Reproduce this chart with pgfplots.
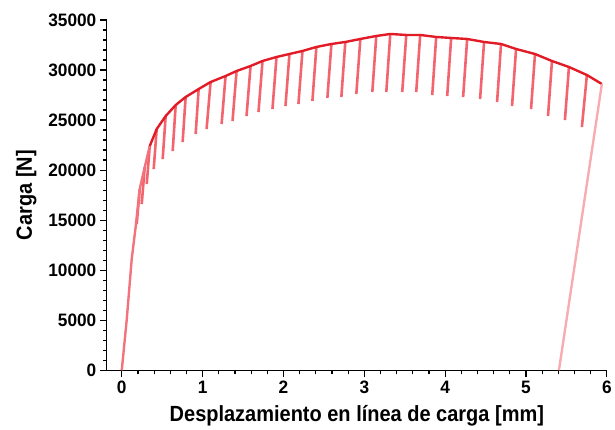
\documentclass[border=0pt]{standalone}
\usepackage{pgfplots}
\pgfplotsset{compat=1.18}
\usepackage{fontspec}
\setmainfont{Liberation Sans}
\newfontfamily\tickfont[FakeStretch=0.96]{Liberation Sans}
\newfontfamily\labfont[FakeStretch=0.91]{Liberation Sans}
\definecolor{env}{RGB}{226,28,38}
\definecolor{unl}{RGB}{242,100,110}
\definecolor{ini}{RGB}{243,115,125}
\definecolor{fin}{RGB}{248,172,178}

\begin{document}
\begin{tikzpicture}
\begin{axis}[name=ax, scale only axis, width=501pt, height=351pt,
  xmin=-0.185, xmax=6, ymin=0, ymax=35000,
  axis x line*=bottom, axis y line*=left,
  axis line style={line width=1.3pt, black},
  xtick={0,1,2,3,4,5,6}, ytick={0,5000,10000,15000,20000,25000,30000,35000},
  minor x tick num=4, minor y tick num=4,
  tick align=outside,
  major tick length=7pt, minor tick length=4pt,
  tick style={line width=1.2pt, black},
  scaled y ticks=false,
  /pgf/number format/1000 sep={},
  /pgf/number format/assume math mode=true,
  tick label style={font=\tickfont\bfseries\fontsize{18}{18}\selectfont},
  xlabel={Desplazamiento en línea de carga [mm]},
  ylabel={Carga [N]},
  label style={font=\labfont\bfseries\fontsize{22}{22}\selectfont},
  xlabel style={at={(axis description cs:0.5,-0.1453)}, anchor=base},
  ylabel style={at={(axis description cs:-0.1497,0.5)}, anchor=base},
  unbounded coords=jump, clip=false]
% unloading / reloading lines
\addplot[unl, line width=2.6pt] coordinates {
(0.222,18100) (0.185,14600) (nan,nan)
(0.284,20300) (0.247,16600) (nan,nan)
(0.346,22400) (0.309,18600) (nan,nan)
(0.432,24100) (0.395,20100) (nan,nan)
(0.543,25400) (0.506,21100) (nan,nan)
(0.667,26500) (0.630,21900) (nan,nan)
(0.790,27300) (0.753,22800) (nan,nan)
(0.951,28100) (0.914,23600) (nan,nan)
(1.099,28800) (1.049,24100) (nan,nan)
(1.284,29400) (1.235,24600) (nan,nan)
(1.420,29900) (1.370,24900) (nan,nan)
(1.593,30400) (1.543,25400) (nan,nan)
(1.741,30900) (1.691,25800) (nan,nan)
(1.914,31300) (1.864,26100) (nan,nan)
(2.074,31600) (2.025,26400) (nan,nan)
(2.235,31900) (2.185,26600) (nan,nan)
(2.407,32300) (2.358,26900) (nan,nan)
(2.593,32600) (2.543,27200) (nan,nan)
(2.765,32800) (2.716,27300) (nan,nan)
(2.951,33100) (2.901,27600) (nan,nan)
(3.148,33400) (3.099,27800) (nan,nan)
(3.321,33600) (3.272,27800) (nan,nan)
(3.519,33500) (3.469,27800) (nan,nan)
(3.691,33500) (3.642,27800) (nan,nan)
(3.889,33300) (3.840,27500) (nan,nan)
(4.074,33200) (4.025,27400) (nan,nan)
(4.272,33100) (4.222,27300) (nan,nan)
(4.481,32800) (4.432,27100) (nan,nan)
(4.691,32600) (4.642,26800) (nan,nan)
(4.877,32100) (4.827,26400) (nan,nan)
(5.111,31600) (5.062,26100) (nan,nan)
(5.321,30900) (5.272,25400) (nan,nan)
(5.531,30300) (5.481,25000) (nan,nan)
(5.753,29500) (5.691,24300)
};
% initial loading
\addplot[ini, line width=2.4pt] coordinates {
(0,0) (0.062,5100) (0.123,11100) (0.173,14400) (0.222,18100) (0.284,20300) (0.346,22400)
};
% envelope
\addplot[env, line width=2.4pt, line join=round] coordinates {
(0.346,22400) (0.432,24100) (0.543,25400) (0.667,26500) (0.790,27300) (0.951,28100)
(1.099,28800) (1.284,29400) (1.420,29900) (1.593,30400) (1.741,30900) (1.914,31300)
(2.074,31600) (2.235,31900) (2.407,32300) (2.593,32600) (2.765,32800) (2.951,33100)
(3.148,33400) (3.321,33600) (3.519,33500) (3.691,33500) (3.889,33300) (4.074,33200)
(4.272,33100) (4.481,32800) (4.691,32600) (4.877,32100) (5.111,31600) (5.321,30900)
(5.531,30300) (5.753,29500) (5.938,28600)
};
% final unloading
\addplot[fin, line width=2.4pt] coordinates {
(5.938,28600) (5.407,0)
};
\end{axis}
\path (ax.south west) ++(-107pt,-59pt) rectangle ++(615pt,430pt);
\end{tikzpicture}
\end{document}
